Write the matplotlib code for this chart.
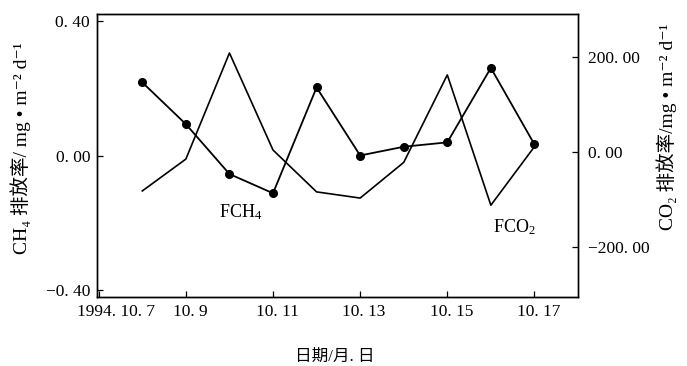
import matplotlib
matplotlib.use("Agg")
import matplotlib.pyplot as plt
from matplotlib.transforms import ScaledTranslation

FAMILY = ["Liberation Serif", "DejaVu Serif", "Noto Sans CJK SC"]
plt.rcParams["font.family"] = FAMILY
plt.rcParams["mathtext.fontset"] = "custom"
plt.rcParams["mathtext.rm"] = "Liberation Serif"
plt.rcParams["mathtext.it"] = "Liberation Serif:italic"
plt.rcParams["axes.unicode_minus"] = True

# Daily fluxes, 8-17 October 1994
days = [8, 9, 10, 11, 12, 13, 14, 15, 16, 17]
ch4_flux = [0.217, 0.093, -0.055, -0.112, 0.202, 0.000, 0.026, 0.039, 0.260, 0.033]
co2_flux = [-82, -15, 208, 4, -84, -97, -22, 162, -112, 11]

x_ticks = [7, 9, 11, 13, 15, 17]
x_labels = ["1994. 10. 7", "10. 9", "10. 11", "10. 13", "10. 15", "10. 17"]
ch4_ticks = [-0.40, 0.00, 0.40]
ch4_labels = ["\u22120. 40", "0. 00", "0. 40"]
co2_ticks = [-200, 0, 200]
co2_labels = ["\u2212200. 00", "0. 00", "200. 00"]

W, H = 687, 366
fig = plt.figure(figsize=(W / 100, H / 100), dpi=100)
ax = fig.add_axes([97 / W, 1 - 297 / H, 481 / W, 283 / H])
ax2 = ax.twinx()

ax.plot(days, ch4_flux, color="black", lw=1.3, marker="o", ms=5.5, zorder=3)
ax2.plot(days, co2_flux, color="black", lw=1.2, zorder=2)

ax.set_xlim(6.96, 18.0)
ax.set_ylim(-0.42, 0.42)
ax2.set_ylim(-305, 290)

TICK_FS = 12.5
ax.set_xticks(x_ticks)
ax.set_xticklabels(x_labels, fontsize=TICK_FS)
ax.set_yticks(ch4_ticks)
ax.set_yticklabels(ch4_labels, fontsize=TICK_FS)
ax2.set_yticks(co2_ticks)
ax2.set_yticklabels(co2_labels, fontsize=TICK_FS)

ax.tick_params(axis="both", direction="in", length=4, width=0.9, pad=5)
ax.tick_params(axis="x", pad=5)
ax2.tick_params(axis="y", direction="in", length=4, width=0.9, pad=7)

# nudge the date labels slightly right; the first one carries the year
for i, lbl in enumerate(ax.get_xticklabels()):
    dx = 4 if i else 17
    lbl.set_transform(lbl.get_transform() + ScaledTranslation(dx / 100, 0, fig.dpi_scale_trans))

for a in (ax, ax2):
    for s in a.spines.values():
        s.set_linewidth(1.0)
        s.set_color("black")

ax.text(10.25, -0.168, r"FCH$_{4}$", fontsize=13, ha="center", va="center")
ax.text(16.54, -0.212, r"FCO$_{2}$", fontsize=13, ha="center", va="center")

fig.text(21 / W, 1 - 148 / H, "CH\u2084 排放率/ mg • m\u207b\u00b2 d\u207b\u00b9",
         rotation=90, ha="center", va="center", fontsize=14, family=FAMILY)
fig.text(667 / W, 1 - 127 / H, "CO\u2082 排放率/mg • m\u207b\u00b2 d\u207b\u00b9",
         rotation=90, ha="center", va="center", fontsize=14, family=FAMILY)
fig.text(335 / W, 1 - 357 / H, "日期/月. 日", ha="center", va="center",
         fontsize=12, family=FAMILY)

fig.savefig("out.png", dpi=100)
